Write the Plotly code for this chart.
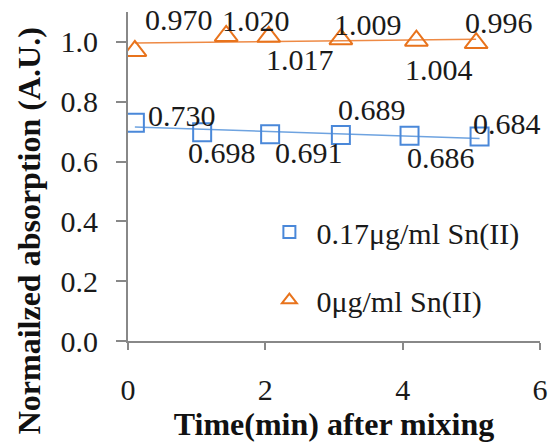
import numpy as np
import plotly.graph_objects as go

# ---- data ----
x_sn = [0.1, 1.08, 2.07, 3.1, 4.1, 5.12]
y_sn = [0.730, 0.698, 0.691, 0.689, 0.686, 0.684]
x_0 = [0.1, 1.43, 2.05, 3.1, 4.2, 5.07]
y_0 = [0.970, 1.020, 1.017, 1.009, 1.004, 0.996]
name_sn = "0.17μg/ml Sn(II)"
name_0 = "0μg/ml Sn(II)"
x_ticks = [0, 2, 4, 6]
y_ticks = [0.0, 0.2, 0.4, 0.6, 0.8, 1.0]
x_title = "Time(min) after mixing"
y_title = "Normailzed absorption (A.U.)"

# ---- label offsets (px, style) ----
off_sn = [(47, -7), (20, 20), (39, 18), (31, -25), (31, 22), (27, -13)]
off_0 = [(44, -31), (30, -15), (31, 23), (27, -15), (23, 29), (23, -21)]

BLUE = "#4a88d9"
BLUE_L = "#6ea3e0"
ORANGE = "#e8731c"
ORANGE_L = "#ee8a45"
FONT = "Liberation Serif"

fig = go.Figure()

for xs, ys, col, coll in [(x_sn, y_sn, BLUE, BLUE_L), (x_0, y_0, ORANGE, ORANGE_L)]:
    p = np.polyfit(xs, ys, 1)
    xl = [min(xs), max(xs)]
    fig.add_trace(go.Scatter(x=xl, y=list(np.polyval(p, xl)), mode="lines",
                             line=dict(color=coll, width=1.5), showlegend=False,
                             hoverinfo="skip"))

fig.add_trace(go.Scatter(x=x_sn, y=y_sn, mode="markers", showlegend=False,
                         marker=dict(symbol="square-open", size=18, color=BLUE,
                                     line=dict(width=2, color=BLUE))))
fig.add_trace(go.Scatter(x=x_0, y=y_0, mode="markers", showlegend=False,
                         marker=dict(symbol="triangle-up-open", size=20, color=ORANGE,
                                     line=dict(width=2, color=ORANGE))))

# legend entries
fig.add_trace(go.Scatter(x=[None], y=[None], mode="markers", name=name_sn, legendgroup="a",
                         marker=dict(symbol="square-open", size=12, color=BLUE,
                                     line=dict(width=2, color=BLUE))))
fig.add_trace(go.Scatter(x=[None], y=[None], mode="markers", name=name_0, legendgroup="b",
                         marker=dict(symbol="triangle-up-open", size=13, color=ORANGE,
                                     line=dict(width=2, color=ORANGE))))

for xs, ys, offs in [(x_sn, y_sn, off_sn), (x_0, y_0, off_0)]:
    for xv, yv, (dx, dy) in zip(xs, ys, offs):
        fig.add_annotation(x=xv, y=yv, text=f"{yv:.3f}", showarrow=False,
                           xshift=dx, yshift=-dy, xanchor="center", yanchor="middle",
                           font=dict(family=FONT, size=30, color="#1a1a1a"))

# y-axis title (placed lower than plot-centre, as in the reference)
fig.add_annotation(xref="paper", yref="paper", x=(27 - 128) / 420, y=(351 - 237) / 339,
                   text=f"<b>{y_title}</b>", textangle=-90, showarrow=False,
                   xanchor="center", yanchor="middle",
                   font=dict(family=FONT, size=32, color="#111111"))

axis_common = dict(showgrid=False, zeroline=False, showline=True, linecolor="#888888",
                   linewidth=2, ticks="outside", tickcolor="#888888", tickwidth=2,
                   tickfont=dict(family=FONT, size=30, color="#1a1a1a"))

fig.update_xaxes(range=[0, 6], tickvals=x_ticks, ticklen=7, ticklabelstandoff=14,
                 title=dict(text=f"<b>{x_title}</b>", standoff=6,
                            font=dict(family=FONT, size=32, color="#111111")),
                 **axis_common)
fig.update_yaxes(range=[0, 1.1], tickvals=y_ticks, tickformat=".1f", ticklen=10,
                 ticklabelstandoff=12, **axis_common)

fig.update_layout(
    width=558, height=444,
    margin=dict(l=128, r=10, t=12, b=93),
    plot_bgcolor="white", paper_bgcolor="white",
    showlegend=True,
    legend=dict(x=(265 - 128) / 420, y=(351 - 212) / 339, xanchor="left", yanchor="top",
                bgcolor="rgba(0,0,0,0)", tracegroupgap=26, itemwidth=44,
                font=dict(family=FONT, size=30, color="#1a1a1a")),
)

fig.write_html("out.html")
